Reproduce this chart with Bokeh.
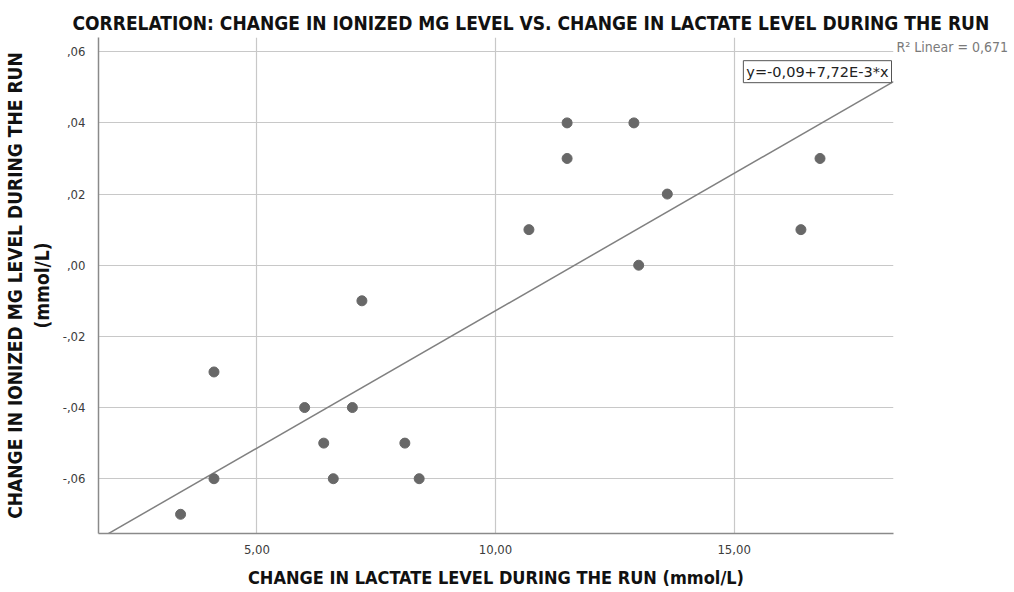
from bokeh.plotting import figure
from bokeh.models import Label, Range1d, FixedTicker, LinearAxis
from bokeh.embed import file_html
from bokeh.resources import INLINE

# Data
lactate_change = [3.4, 4.1, 4.1, 6.0, 6.4, 6.6, 7.0, 7.2, 8.1, 8.4,
                  10.7, 11.5, 11.5, 12.9, 13.0, 13.6, 16.4, 16.8]
mg_change = [-0.07, -0.03, -0.06, -0.04, -0.05, -0.06, -0.04, -0.01, -0.05, -0.06,
             0.01, 0.04, 0.03, 0.04, 0.00, 0.02, 0.01, 0.03]
fit_intercept = -0.09
fit_slope = 7.72e-3
r_squared_label = "R² Linear = 0,671"
equation_label = "y=-0,09+7,72E-3*x"

x_ticks = [5, 10, 15]
x_tick_labels = ["5,00", "10,00", "15,00"]
y_ticks = [-0.06, -0.04, -0.02, 0.0, 0.02, 0.04, 0.06]
y_tick_labels = ["-,06", "-,04", "-,02", ",00", ",02", ",04", ",06"]

title_text = "CORRELATION: CHANGE IN IONIZED MG LEVEL VS. CHANGE IN LACTATE LEVEL DURING THE RUN"
x_label = "CHANGE IN LACTATE LEVEL DURING THE RUN (mmol/L)"
y_label = "CHANGE IN IONIZED MG LEVEL DURING THE RUN\n(mmol/L)"

FONT = "DejaVu Sans Condensed"

x0, x1 = 1.68, 18.34
y0, y1 = -0.0754, 0.0640

p = figure(width=1014, height=592, output_backend="svg", toolbar_location=None,
           x_range=Range1d(x0, x1), y_range=Range1d(y0, y1),
           min_border_left=98, min_border_right=121, min_border_top=37, min_border_bottom=59)
p.outline_line_color = None
p.background_fill_color = "white"

# title
p.title.text = title_text
p.title.text_font = FONT
p.title.text_font_size = "19px"
p.title.text_font_style = "bold"
p.title.text_color = "#111111"
p.title.align = "left"
p.title.offset = -26
p.title.standoff = 8

for ax, ticks, labels in ((p.xaxis[0], x_ticks, x_tick_labels), (p.yaxis[0], y_ticks, y_tick_labels)):
    ax.ticker = FixedTicker(ticks=ticks)
    ax.major_label_overrides = {t: l for t, l in zip(ticks, labels)}
    ax.major_tick_out = 0
    ax.major_tick_in = 0
    ax.minor_tick_out = 0
    ax.minor_tick_in = 0
    ax.axis_line_color = "#8a8a8a"
    ax.axis_line_width = 1.5
    ax.major_label_text_font = FONT
    ax.major_label_text_font_size = "13px"
    ax.major_label_text_color = "#3c3c3c"
    ax.axis_label_text_font = FONT
    ax.axis_label_text_font_style = "bold"
    ax.axis_label_text_color = "#111111"

p.xaxis.axis_label = x_label
p.yaxis.axis_label = y_label
p.xaxis.axis_label_text_font_size = "18px"
p.yaxis.axis_label_text_font_size = "19px"
p.xaxis.major_label_standoff = 11
p.yaxis.major_label_standoff = 13
p.xaxis.axis_label_standoff = 10
p.yaxis.axis_label_standoff = 7

p.xgrid.ticker = FixedTicker(ticks=x_ticks)
p.ygrid.ticker = FixedTicker(ticks=y_ticks)
p.grid.grid_line_color = "#c8c8c8"
p.grid.grid_line_width = 1.2

# right-side axis used only to carry the R² note next to the top grid line
r2_axis = LinearAxis(ticker=FixedTicker(ticks=[0.0614]),
                     major_label_overrides={0.0614: r_squared_label},
                     axis_line_color=None, major_tick_out=0, major_tick_in=0,
                     minor_tick_out=0, minor_tick_in=0,
                     major_label_standoff=3,
                     major_label_text_font=FONT, major_label_text_font_size="14px",
                     major_label_text_color="#7a7a7a")
p.add_layout(r2_axis, "right")

# regression line
fit_x = [x0, x1]
fit_y = [fit_intercept + fit_slope * v for v in fit_x]
p.line(fit_x, fit_y, line_color="#808080", line_width=1.5)

# points
p.scatter(lactate_change, mg_change, size=10, fill_color="#686868", line_color="#686868")

# equation box
p.add_layout(Label(x=x1, y=fit_intercept + fit_slope * x1, text=equation_label,
                   x_offset=-2, y_offset=10, text_align="right", text_baseline="middle",
                   text_font="DejaVu Sans", text_font_size="14.5px", text_color="#222222",
                   border_line_color="#555555", border_line_width=1,
                   background_fill_color="white", padding=3))

open("out.html", "w").write(file_html(p, INLINE))
